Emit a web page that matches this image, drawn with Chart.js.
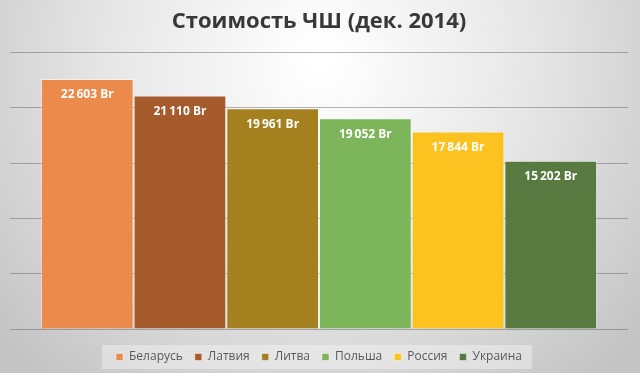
<!DOCTYPE html>
<html>
<head>
<meta charset="utf-8">
<script src="https://cdn.jsdelivr.net/npm/chart.js@4/dist/chart.umd.min.js"></script>
<style>
  html, body { margin: 0; padding: 0; }
  #wrap { width: 640px; height: 373px; }
</style>
</head>
<body>
<div id="wrap"><canvas id="myChart" width="640" height="373"></canvas></div>
<script>
const countries = ['Беларусь', 'Латвия', 'Литва', 'Польша', 'Россия', 'Украина'];
const prices = [22603, 21110, 19961, 19052, 17844, 15202];
const barColors = ['#ec8a4c', '#a65b2c', '#a4801f', '#7db55b', '#fcc220', '#587a41'];
const yTicks = [0, 5000, 10000, 15000, 20000, 25000];

function fmt(v) {
    return String(v).replace(/\B(?=(\d{3})+(?!\d))/g, '\u2009') + ' Br';
}

const bgPlugin = {
    id: 'bg',
    beforeDraw(chart) {
        const ctx = chart.ctx;
        const w = chart.width, h = chart.height;
        ctx.save();
        const g = ctx.createRadialGradient(w / 2, 60, 10, w / 2, 60, 420);
        g.addColorStop(0, '#ffffff');
        g.addColorStop(0.5, '#e6e6e6');
        g.addColorStop(1, '#c4c4c4');
        ctx.fillStyle = g;
        ctx.fillRect(0, 0, w, h);
        // legend backdrop
        const boxes = chart.legend.legendHitBoxes;
        if (boxes && boxes.length) {
            const x0 = boxes[0].left - 14;
            const last = boxes[boxes.length - 1];
            const x1 = last.left + last.width + 10;
            ctx.fillStyle = 'rgba(255,255,255,0.35)';
            ctx.fillRect(x0, boxes[0].top - 6, x1 - x0, boxes[0].height + 12);
        }
        ctx.restore();
    }
};

const labelPlugin = {
    id: 'barLabels',
    afterDatasetsDraw(chart) {
        const ctx = chart.ctx;
        ctx.save();
        ctx.textAlign = 'center';
        ctx.textBaseline = 'middle';
        ctx.fillStyle = '#ffffff';
        ctx.font = 'bold 12px "Open Sans"';
        chart.data.datasets.forEach(function (dataset, i) {
            const meta = chart.getDatasetMeta(i);
            meta.data.forEach(function (bar, index) {
                ctx.fillText(fmt(dataset.data[index]), bar.x, bar.y + 16);
            });
        });
        ctx.restore();
    }
};

new Chart(document.getElementById('myChart').getContext('2d'), {
    type: 'bar',
    data: {
        labels: [''],
        datasets: countries.map(function (name, i) {
            return {
                label: name,
                data: [prices[i]],
                backgroundColor: barColors[i],
                borderColor: 'rgba(255,255,255,0.45)',
                borderWidth: 1,
                categoryPercentage: 0.9,
                barPercentage: 1
            };
        })
    },
    options: {
        responsive: false,
        animation: false,
        layout: { padding: { left: 10, right: 12, top: 0, bottom: 0 } },
        plugins: {
            title: {
                display: true,
                text: 'Стоимость ЧШ (дек. 2014)',
                color: '#383838',
                font: { family: '"Open Sans"', size: 22, weight: 'bold' },
                padding: { top: 9, bottom: 17 }
            },
            legend: {
                position: 'bottom',
                labels: {
                    boxWidth: 7,
                    boxHeight: 7,
                    padding: 12,
                    color: '#595959',
                    font: { family: '"Open Sans"', size: 12 }
                }
            },
            tooltip: { enabled: false }
        },
        scales: {
            x: {
                display: true,
                ticks: { display: false },
                grid: { display: false },
                border: { display: false },
                afterFit: function (scale) { scale.height = 10; }
            },
            y: {
                min: 0,
                max: 25000,
                afterBuildTicks: function (axis) {
                    axis.ticks = yTicks.map(function (v) { return { value: v }; });
                },
                ticks: { display: false },
                border: { display: false },
                grid: { color: 'rgba(90,90,90,0.45)', drawTicks: false }
            }
        }
    },
    plugins: [bgPlugin, labelPlugin]
});
</script>
</body>
</html>
